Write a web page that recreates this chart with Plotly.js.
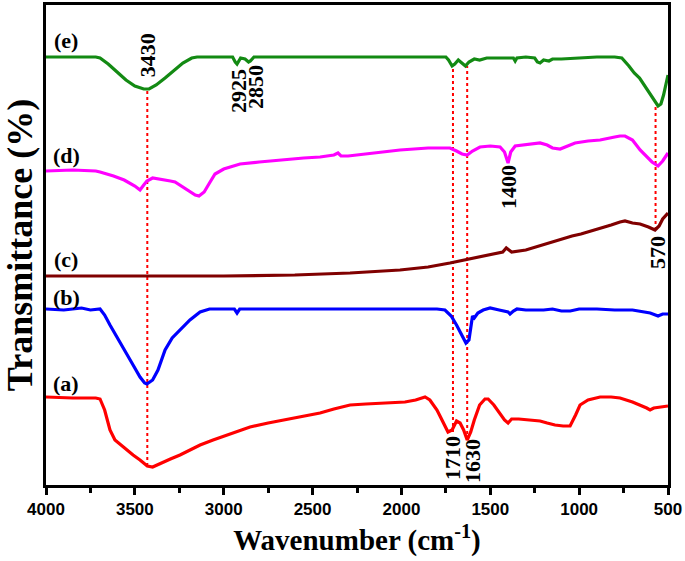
<!DOCTYPE html>
<html>
<head>
<meta charset="utf-8">
<script src="https://cdn.plot.ly/plotly-3.0.1.min.js"></script>
<style>html,body{margin:0;padding:0;background:#fff;}#chart{width:685px;height:561px;}</style>
</head>
<body>
<div id="chart"></div>
<script>
// Spectrum (e) - green
const eWn = [4000,3850,3720,3696,3650,3600,3550,3500,3450,3420,3380,3330,3280,3230,3180,3150,3000,2950,2935,2925,2905,2880,2860,2850,2830,2500,2000,1750,1735,1715,1700,1680,1660,1640,1620,1590,1560,1520,1450,1400,1370,1360,1350,1300,1250,1235,1220,1200,1170,1150,1100,1000,900,800,760,720,690,660,630,600,575,556,540,525,510,500];
const eT  = [428,428,428,427,421,413,405,399,396,396,400,407,415,422,427,428,428,428,423,421,427,426,423,424,428,428,428,428,425,419,421,425,422,419,423,426,425,427,427,427,427,424,427,428,427,423,422,425,424,426,426,427,428,428,427,419,412,407,399,390,384,379,381,390,402,410];
// Spectrum (d) - magenta
const dWn = [4000,3850,3720,3696,3620,3560,3500,3471,3450,3432,3400,3358,3300,3274,3230,3190,3160,3139,3110,3080,3049,3000,2908,2800,2683,2550,2458,2380,2357,2340,2300,2150,2008,1850,1727,1690,1659,1630,1600,1558,1500,1445,1420,1400,1385,1360,1300,1220,1180,1150,1107,1060,1023,950,882,800,770,742,700,657,620,590,556,530,500];
const dT  = [314,315,314,313,309,305,299,295,300,304,307,306,304,303,298,294,290,289,293,302,311,316,321,323,325,327,328,330,332,329,329,332,335,337,337,334,331,330,334,338,339,338,333,322,333,339,340,342,340,337,336,339,342,344,345,348,349,349,345,335,328,323,319,324,332];
// Spectrum (c) - dark red
const cWn = [4000,3500,3000,2600,2289,2008,1850,1727,1614,1500,1430,1410,1395,1380,1300,1192,1150,1080,1040,990,950,882,820,770,742,700,657,610,573,550,530,500];
const cT  = [209,209,209,210,212,215,218,222,226,230,233,237,235,233,235,241,243,247,249,251,253,257,260,263,264,262,261,258,255,259,266,272];
// Spectrum (b) - blue
const bWn = [4000,3900,3800,3750,3696,3670,3640,3600,3555,3510,3471,3445,3432,3400,3370,3330,3290,3246,3190,3133,3080,3000,2940,2925,2910,2800,2500,2000,1800,1755,1720,1690,1660,1637,1620,1610,1600,1590,1570,1540,1501,1450,1400,1389,1370,1350,1300,1200,1150,1100,1050,1000,900,800,700,600,556,530,500];
const bT  = [176,175,177,175,176,170,160,148,135,120,108,102,101,105,115,135,147,155,165,173,176,176,176,172,176,176,176,176,176,175,169,160,149,142,145,157,169,167,172,175,177,175,173,171,174,176,175,175,176,174,174,176,176,175,175,172,169,171,171];
// Spectrum (a) - red
const aWn = [4000,3850,3720,3696,3670,3640,3612,3580,3555,3510,3471,3430,3400,3358,3300,3246,3190,3133,3060,2993,2920,2852,2750,2627,2550,2458,2380,2289,2200,2120,1980,1920,1867,1840,1800,1783,1760,1738,1715,1690,1670,1650,1630,1610,1590,1560,1530,1512,1480,1450,1420,1400,1380,1340,1280,1220,1180,1136,1090,1051,1020,995,950,882,820,770,700,657,620,601,580,540,500];
const aT  = [88,87,87,86,75,55,45,40,37,30,25,19,18,21,26,30,35,40,45,49,54,58,62,66,69,72,76,80,81,82,83,85,88,85,75,69,60,53,55,64,62,55,45,53,65,80,86,86,80,72,65,62,66,66,65,64,62,60,59,59,70,80,85,88,88,87,83,80,77,75,77,78,79];

// Curve labels
const curveLabels = ['(a)','(b)','(c)','(d)','(e)'];
const curveLabelT = [102,188,226,330,445];
const curveLabelWn = 3887;

// Peak markers (dotted lines)
const peakWn  = [3430, 1710, 1630, 570];
const peakTop = [396, 419, 419, 379];
const peakBot = [19, 53, 45, 255];

// Peak text labels
const peakText = ['3430','2925','2850','1400','570','1710','1630'];
const peakTextWn = [3430, 2920, 2824, 1400, 562, 1716, 1603];
const peakTextT  = [430, 394, 398, 298, 233, 27, 24];

const xTicks = [4000,3500,3000,2500,2000,1500,1000,500];

const serif = 'Liberation Serif, Times New Roman, serif';
const sans = 'Liberation Sans, Arial, sans-serif';

function tr(x, y, color){
  return {x:x, y:y, type:'scatter', mode:'lines', line:{color:color, width:3.2}, hoverinfo:'skip', showlegend:false};
}
const data = [
  tr(aWn, aT, '#ff0000'),
  tr(bWn, bT, '#0000ff'),
  tr(cWn, cT, '#800000'),
  tr(dWn, dT, '#ff00ff'),
  tr(eWn, eT, '#138a13')
];

const shapes = peakWn.map((w,i)=>({type:'line', xref:'x', yref:'y', x0:w, x1:w, y0:peakBot[i], y1:peakTop[i], line:{color:'#ff0000', width:2, dash:'dot'}, layer:'below'}));

const annotations = [];
curveLabels.forEach((t,i)=>annotations.push({x:curveLabelWn, y:curveLabelT[i], xref:'x', yref:'y', text:t, showarrow:false, xanchor:'center', yanchor:'middle', font:{family:serif, size:22, color:'#000', weight:'bold'}}));
peakText.forEach((t,i)=>annotations.push({x:peakTextWn[i], y:peakTextT[i], xref:'x', yref:'y', text:t, showarrow:false, textangle:-90, xanchor:'center', yanchor:'middle', font:{family:serif, size:22, color:'#000', weight:'bold'}}));

const layout = {
  width:685, height:561,
  margin:{l:46, r:17, t:5, b:76},
  paper_bgcolor:'#fff', plot_bgcolor:'#fff',
  showlegend:false,
  xaxis:{
    range:[4000,500], tickvals:xTicks, ticktext:xTicks.map(String),
    ticks:'outside', ticklen:7, tickwidth:3, tickcolor:'#000',
    minor:{tick0:250, dtick:500, ticks:'outside', ticklen:5, tickwidth:3, tickcolor:'#000'},
    showline:true, linewidth:3, linecolor:'#000', mirror:true,
    showgrid:false, zeroline:false,
    tickfont:{family:sans, size:17, color:'#000', weight:'bold'},
    title:{text:'Wavenumber (cm<sup>-1</sup>)', font:{family:serif, size:29, color:'#000', weight:'bold'}, standoff:12}
  },
  yaxis:{
    range:[0,480], showticklabels:false, ticks:'',
    showline:true, linewidth:3, linecolor:'#000', mirror:true,
    showgrid:false, zeroline:false,
    title:{text:'Transmittance (%)', font:{family:serif, size:36, color:'#000', weight:'bold'}, standoff:4}
  },
  shapes:shapes,
  annotations:annotations
};
Plotly.newPlot('chart', data, layout, {displayModeBar:false, staticPlot:true});
</script>
</body>
</html>
